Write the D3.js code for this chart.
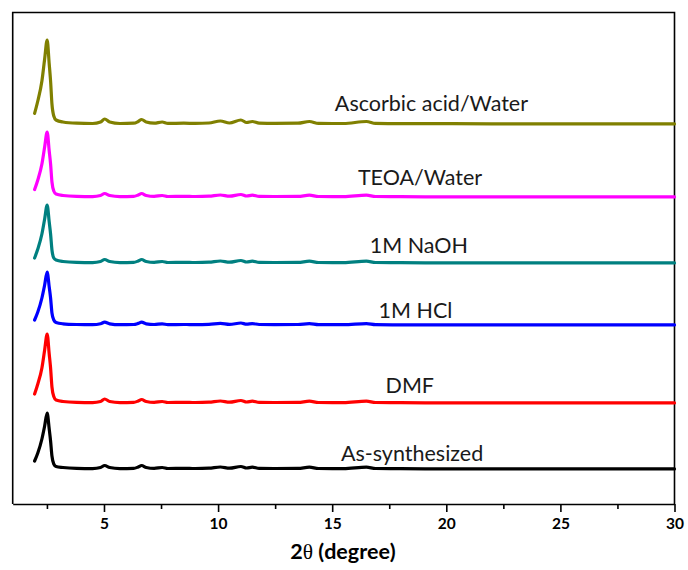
<!DOCTYPE html>
<html><head><meta charset="utf-8">
<script src="https://cdn.jsdelivr.net/npm/d3@7"></script>
<style>body{margin:0;background:#fff}svg{display:block}</style>
</head><body>
<svg id="c" width="688" height="570"></svg>
<script>
// 2θ sampling positions (degree)
const twoTheta = [1.96, 2.1, 2.28, 2.4, 2.51, 2.6, 2.66, 2.72, 2.8, 2.9, 3.2, 3.8, 4.5, 4.85, 5.03, 5.25, 5.7, 6.3, 6.5, 6.65, 6.85, 7.2, 7.55, 7.8, 8.5, 9.0, 9.6, 10.1, 10.5, 11.0, 11.25, 11.5, 11.8, 12.5, 13.5, 14.0, 14.4, 15.5, 16.5, 16.9, 18, 20, 22, 25, 28, 30];
// series names (top to bottom)
const seriesNames = ["Ascorbic acid/Water", "TEOA/Water", "1M NaOH", "1M HCl", "DMF", "As-synthesized"];
const seriesColors = ["#808000", "#FF00FF", "#008080", "#0000FF", "#FF0000", "#000000"];
// vertical stacking offsets (a.u.)
const seriesOffsets = [380, 307, 241, 179, 101, 35];
// intensities (a.u.) above offset
const ascorbic = [10.6, 23, 43, 65, 84, 60, 43, 20, 8, 4, 2, 0.8, 0.5, 2, 5, 2, 0.5, 0.8, 2.5, 4.5, 2, 0.8, 2, 0.6, 0.8, 0.6, 1, 3, 1, 4, 1.5, 2.5, 0.8, 0.6, 0.8, 2.5, 0.6, 0.5, 2.5, 0.6, 0.3, 0.3, 0.2, 0.2, 0.1, 0.1];
const teoa = [7.4, 17, 33, 50, 65, 46, 33, 15, 6, 3, 1.5, 0.6, 0.4, 1.5, 3.5, 1.5, 0.4, 0.6, 2, 3.5, 1.5, 0.6, 1.5, 0.5, 0.6, 0.5, 0.8, 2, 0.8, 2.5, 1, 1.8, 0.6, 0.5, 0.6, 1.8, 0.5, 0.4, 1.8, 0.5, 0.3, 0.2, 0.2, 0.1, 0.1, 0.1];
const naoh = [5, 14, 29, 44, 58, 41, 29, 13, 5, 3, 1.5, 0.6, 0.4, 1.5, 3.5, 1.5, 0.4, 0.6, 2, 3.5, 1.5, 0.6, 1.5, 0.5, 0.6, 0.5, 0.8, 2, 0.8, 2.5, 1, 1.8, 0.6, 0.5, 0.6, 1.8, 0.5, 0.4, 1.8, 0.5, 0.3, 0.2, 0.2, 0.1, 0.1, 0.1];
const hcl = [5, 13, 27, 40, 53, 38, 27, 12, 5, 2.5, 1.2, 0.5, 0.3, 1.2, 2.8, 1.2, 0.3, 0.5, 1.6, 2.8, 1.2, 0.5, 1.2, 0.4, 0.5, 0.4, 0.6, 1.6, 0.6, 2, 0.8, 1.4, 0.5, 0.4, 0.5, 1.4, 0.4, 0.3, 1.4, 0.4, 0.2, 0.2, 0.1, 0.1, 0.1, 0.1];
const dmf = [9, 19, 35, 53, 69, 49, 35, 16, 6.5, 3, 1.5, 0.6, 0.4, 1.5, 4, 1.5, 0.4, 0.6, 2, 3.5, 1.5, 0.6, 1.5, 0.5, 0.6, 0.5, 0.8, 2, 0.8, 2.5, 1, 1.8, 0.6, 0.5, 0.6, 1.8, 0.5, 0.4, 1.8, 0.5, 0.3, 0.2, 0.2, 0.1, 0.1, 0.1];
const asSynth = [8, 16, 30, 43, 56, 40, 28, 13, 5, 2.5, 1.5, 0.6, 0.4, 1.5, 3.5, 1.5, 0.4, 0.6, 2, 3.5, 1.5, 0.6, 1.5, 0.5, 0.6, 0.5, 0.8, 2, 0.8, 2.5, 1, 1.8, 0.6, 0.5, 0.6, 1.8, 0.5, 0.4, 1.8, 0.5, 0.3, 0.2, 0.2, 0.1, 0.1, 0.1];
const seriesValues = [ascorbic, teoa, naoh, hcl, dmf, asSynth];
// label anchor (2θ) and height above offset (a.u.)
const labelX = [19.35, 18.85, 18.8, 18.65, 18.4, 18.5];
const labelDy = [13.5, 12, 10, 7, 10, 8];
const majorTicks = [5, 10, 15, 20, 25, 30];
const minorTicks = [2.5, 7.5, 12.5, 17.5, 22.5, 27.5];

const L = 12.7, R = 674.5, T = 12.5, B = 504;
const svg = d3.select("#c");
const x = d3.scaleLinear().domain([1, 30]).range([L, R]);
const y = d3.scaleLinear().domain([0, B - T]).range([B, T]);

// frame
svg.append("path").attr("d", `M${L},${B}V${T}H${R}V${B}`).attr("fill", "none").attr("stroke", "#000").attr("stroke-width", 1.6);

// x axis
const gx = svg.append("g").attr("transform", `translate(0,${B})`);
gx.call(d3.axisBottom(x).tickValues(majorTicks).tickFormat(d3.format("d")).tickSize(8).tickSizeOuter(0).tickPadding(6));
gx.select(".domain").attr("stroke-width", 1.6);
gx.selectAll(".tick line").attr("stroke-width", 1.6);
gx.selectAll(".tick text").attr("font-family", "Lato, 'Open Sans', sans-serif").attr("font-weight", "bold").attr("font-size", 15.5).attr("fill", "#000");
const gm = svg.append("g").attr("transform", `translate(0,${B})`);
gm.call(d3.axisBottom(x).tickValues(minorTicks).tickFormat("").tickSize(5).tickSizeOuter(0));
gm.select(".domain").remove();
gm.selectAll(".tick line").attr("stroke-width", 1.6);

// axis title
const title = svg.append("text").attr("x", 343).attr("y", 559).attr("text-anchor", "middle")
  .attr("font-family", "Lato, 'Open Sans', sans-serif").attr("font-weight", "bold").attr("font-size", 21.5).attr("fill", "#000");
title.append("tspan").text("2");
title.append("tspan").attr("font-family", "'Liberation Serif', 'DejaVu Serif', serif").attr("font-weight", "normal").text("θ");
title.append("tspan").text(" (degree)");

// lines
const line = d3.line().curve(d3.curveMonotoneX);
seriesValues.forEach((vals, i) => {
  const pts = twoTheta.map((t, j) => [x(t), y(vals[j] + seriesOffsets[i])]);
  svg.append("path").attr("d", line(pts)).attr("fill", "none")
    .attr("stroke", seriesColors[i]).attr("stroke-width", 3.2).attr("stroke-linejoin", "round").attr("stroke-linecap", "round");
  svg.append("text").attr("x", x(labelX[i])).attr("y", y(seriesOffsets[i] + labelDy[i]))
    .attr("text-anchor", "middle").attr("font-family", "Lato, 'Open Sans', sans-serif")
    .attr("font-size", 21.5).attr("fill", "#1a1a1a").text(seriesNames[i]);
});
</script>
</body></html>
